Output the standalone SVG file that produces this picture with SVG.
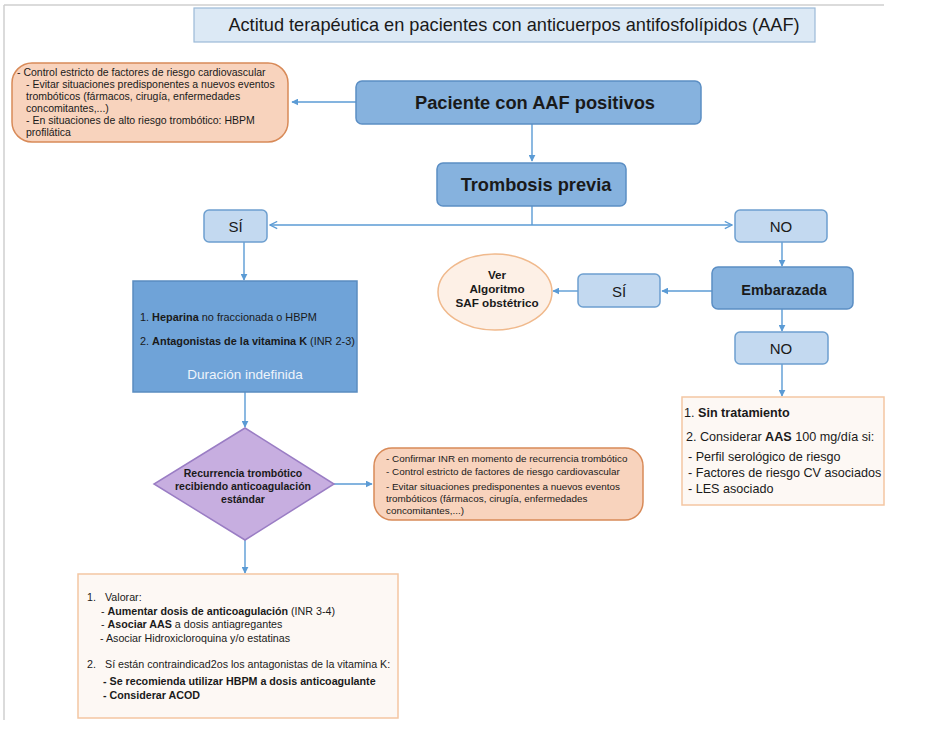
<svg xmlns="http://www.w3.org/2000/svg" width="932" height="748" viewBox="0 0 932 748">
<defs>
<marker id="ah" viewBox="0 0 10 10" refX="9" refY="5" markerWidth="7" markerHeight="7" orient="auto-start-reverse" markerUnits="userSpaceOnUse">
<path d="M0,0 L10,5 L0,10 z" fill="#5b9bd5"/>
</marker>
<marker id="chev" viewBox="0 0 10 10" refX="9" refY="5" markerWidth="9" markerHeight="9" orient="auto-start-reverse" markerUnits="userSpaceOnUse">
<path d="M1,1 L9,5 L1,9" fill="none" stroke="#5b9bd5" stroke-width="1.4"/>
</marker>
</defs>
<style>
text{font-family:"Liberation Sans",Arial,sans-serif;fill:#1a1a1a}
.b{font-weight:bold}
.conn{stroke:#5b9bd5;stroke-width:1.4;fill:none}
.blue{fill:#86b2de;stroke:#5b8ec4;stroke-width:1.5}
.lblue{fill:#c3d9f0;stroke:#6d9fcf;stroke-width:1.5}
.orange{fill:#f8d3bd;stroke:#d88a58;stroke-width:1.5}
.cream{fill:#fdf8f4;stroke:#f4c6a2;stroke-width:1.5}
.frame{stroke:#cfcfcf;stroke-width:1.5}
</style>
<rect x="0" y="0" width="932" height="748" fill="#ffffff"/>
<g id="frame">
<line class="frame" x1="4" y1="5" x2="884" y2="5"/>
<line class="frame" x1="4" y1="5" x2="4" y2="720"/>
</g>
<g id="title">
<rect x="194" y="8" width="621" height="34" fill="#dce9f5" stroke="#9bbad8" stroke-width="1.2"/>
<text x="514" y="31" font-size="18.2" text-anchor="middle">Actitud terapéutica en pacientes con anticuerpos antifosfolípidos (AAF)</text>
</g>
<g id="connectors">
<line class="conn" x1="356" y1="102" x2="292" y2="102" marker-end="url(#ah)"/>
<line class="conn" x1="532" y1="124" x2="532" y2="161" marker-end="url(#ah)"/>
<line class="conn" x1="532" y1="206" x2="532" y2="225"/>
<line class="conn" x1="270" y1="225" x2="732" y2="225" marker-start="url(#chev)" marker-end="url(#chev)"/>
<line class="conn" x1="244" y1="242" x2="244" y2="280" marker-end="url(#ah)"/>
<line class="conn" x1="782" y1="242" x2="782" y2="266" marker-end="url(#ah)"/>
<line class="conn" x1="712" y1="291" x2="662" y2="291" marker-end="url(#ah)"/>
<line class="conn" x1="578" y1="291" x2="553" y2="291" marker-end="url(#ah)"/>
<line class="conn" x1="782" y1="309" x2="782" y2="331" marker-end="url(#ah)"/>
<line class="conn" x1="782" y1="364" x2="782" y2="396" marker-end="url(#ah)"/>
<line class="conn" x1="245" y1="392" x2="245" y2="427" marker-end="url(#ah)"/>
<line class="conn" x1="333" y1="484" x2="372" y2="484" marker-end="url(#ah)"/>
<line class="conn" x1="245" y1="540" x2="245" y2="573" marker-end="url(#ah)"/>
</g>
<g id="node-medidas">
<rect class="orange" x="12" y="63" width="276" height="79" rx="20"/>
<text font-size="10.5"><tspan x="17" y="76">- Control estricto de factores de riesgo cardiovascular</tspan><tspan x="26" y="88">- Evitar situaciones predisponentes a nuevos eventos</tspan><tspan x="26" y="100">trombóticos (fármacos, cirugía, enfermedades</tspan><tspan x="26" y="112">concomitantes,...)</tspan><tspan x="26" y="124">- En situaciones de alto riesgo trombótico: HBPM</tspan><tspan x="26" y="136">profilática</tspan></text>
</g>
<g id="node-paciente">
<rect class="blue" x="356" y="81" width="345" height="43" rx="6"/>
<text class="b" x="535" y="109" font-size="18.3" text-anchor="middle">Paciente con AAF positivos</text>
</g>
<g id="node-trombosis">
<rect class="blue" x="437" y="163" width="189" height="43" rx="6"/>
<text class="b" x="536" y="191" font-size="18.2" text-anchor="middle">Trombosis previa</text>
</g>
<g id="node-si1">
<rect class="lblue" x="204" y="210" width="63" height="32" rx="5"/>
<text x="235.500" y="232" font-size="15" text-anchor="middle">SÍ</text>
</g>
<g id="node-no1">
<rect class="lblue" x="735" y="210" width="92" height="32" rx="5"/>
<text x="781" y="232" font-size="15" text-anchor="middle">NO</text>
</g>
<g id="node-heparina">
<rect x="133" y="281" width="224" height="111" fill="#6fa3d8" stroke="#5a8cc0" stroke-width="1.5"/>
<text x="140" y="321" font-size="10.9">1. <tspan class="b">Heparina</tspan> no fraccionada o HBPM</text>
<text x="140" y="345" font-size="10.9">2. <tspan class="b">Antagonistas de la vitamina K</tspan> (INR 2-3)</text>
<text x="245" y="379" font-size="13.5" text-anchor="middle" style="fill:#eef4fb">Duración indefinida</text>
</g>
<g id="node-embarazada">
<rect class="blue" x="712" y="267" width="141" height="42" rx="6"/>
<text class="b" x="784" y="295" font-size="14.5" text-anchor="middle">Embarazada</text>
</g>
<g id="node-si2">
<rect class="lblue" x="578" y="274" width="82" height="33" rx="5"/>
<text x="619" y="297" font-size="15" text-anchor="middle">SÍ</text>
</g>
<g id="node-saf">
<ellipse cx="495" cy="292" rx="57" ry="38" fill="#fdf0e6" stroke="#f0b98c" stroke-width="1.5"/>
<text class="b" font-size="11.7" text-anchor="middle"><tspan x="497" y="279">Ver</tspan><tspan x="497" y="293">Algoritmo</tspan><tspan x="497" y="307">SAF obstétrico</tspan></text>
</g>
<g id="node-no2">
<rect class="lblue" x="735" y="332" width="93" height="32" rx="5"/>
<text x="781" y="354" font-size="15" text-anchor="middle">NO</text>
</g>
<g id="node-sintratamiento">
<rect class="cream" x="682" y="397" width="202" height="108"/>
<text x="684" y="417" font-size="12.6">1. <tspan class="b">Sin tratamiento</tspan></text>
<text x="686" y="441" font-size="12.6">2. Considerar <tspan class="b">AAS</tspan> 100 mg/día si:</text>
<text x="688" y="461" font-size="12.6">- Perfil serológico de riesgo</text>
<text x="688" y="477" font-size="12.6">- Factores de riesgo CV asociados</text>
<text x="688" y="493" font-size="12.6">- LES asociado</text>
</g>
<g id="node-recurrencia">
<polygon points="245,428 334,484 245,540 154,484" fill="#c7aee0" stroke="#9a7dc4" stroke-width="1.5"/>
<text class="b" font-size="10.5" text-anchor="middle"><tspan x="243" y="477">Recurrencia trombótico</tspan><tspan x="243" y="490">recibiendo anticoagulación</tspan><tspan x="243" y="503">estándar</tspan></text>
</g>
<g id="node-confirmar">
<rect class="orange" x="374" y="448" width="269" height="72" rx="18"/>
<text font-size="9.9"><tspan x="386" y="462">- Confirmar INR en momento de recurrencia trombótico</tspan><tspan x="386" y="475">- Control estricto de factores de riesgo cardiovascular</tspan><tspan x="386" y="490">- Evitar situaciones predisponentes a nuevos eventos</tspan><tspan x="386" y="502">trombóticos (fármacos, cirugía, enfermedades</tspan><tspan x="386" y="514">concomitantes,...)</tspan></text>
</g>
<g id="node-valorar">
<rect class="cream" x="78" y="574" width="320" height="144"/>
<text x="87" y="601" font-size="10.7">1.</text>
<text x="105" y="601" font-size="10.7">Valorar:</text>
<text x="101" y="615" font-size="10.7">- <tspan class="b">Aumentar dosis de anticoagulación</tspan> (INR 3-4)</text>
<text x="101" y="628" font-size="10.7">- <tspan class="b">Asociar AAS</tspan> a dosis antiagregantes</text>
<text x="100" y="642" font-size="10.7">- Asociar Hidroxicloroquina y/o estatinas</text>
<text x="87" y="668" font-size="10.7">2.</text>
<text x="105" y="668" font-size="10.7">Sí están contraindicad2os los antagonistas de la vitamina K:</text>
<text class="b" x="103" y="685" font-size="10.7">- Se recomienda utilizar HBPM a dosis anticoagulante</text>
<text class="b" x="103" y="699" font-size="10.7">- Considerar ACOD</text>
</g>
</svg>
